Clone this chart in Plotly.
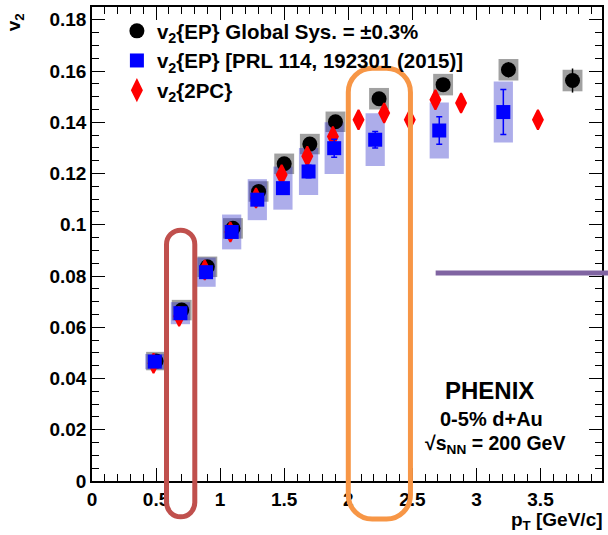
import plotly.graph_objects as go

# ---------------- data ----------------
ep_x = [0.5, 0.7, 0.9, 1.1, 1.3, 1.5, 1.7, 1.9, 2.24, 2.74, 3.25, 3.75]
ep_y = [0.0468, 0.0667, 0.0836, 0.0986, 0.1130, 0.1238, 0.1315, 0.1402, 0.1492, 0.1547, 0.1605, 0.1563]
ep_stat = [0.0004, 0.0005, 0.0006, 0.0007, 0.0008, 0.0009, 0.0010, 0.0012, 0.0018, 0.0025, 0.0030, 0.0047]
ep_sys = [0.0036, 0.0040, 0.0040, 0.0040, 0.0040, 0.0040, 0.0040, 0.0040, 0.0042, 0.0042, 0.0042, 0.0042]

prl_x = [0.49, 0.69, 0.89, 1.09, 1.29, 1.49, 1.69, 1.89, 2.21, 2.71, 3.21]
prl_y = [0.0466, 0.0655, 0.0815, 0.0972, 0.1098, 0.1143, 0.1208, 0.1299, 0.1332, 0.1368, 0.1440]
prl_stat = [0.0005, 0.0007, 0.0010, 0.0012, 0.0018, 0.0020, 0.0024, 0.0035, 0.0032, 0.0054, 0.0088]
prl_sys = [0.0030, 0.0043, 0.0057, 0.0068, 0.0080, 0.0084, 0.0092, 0.0101, 0.0103, 0.0109, 0.0119]

pc_x = [0.48, 0.68, 0.88, 1.08, 1.28, 1.48, 1.68, 1.88, 2.08, 2.28, 2.48, 2.68, 2.88, 3.48]
pc_y = [0.0460, 0.0643, 0.0824, 0.0972, 0.1105, 0.1195, 0.1267, 0.1345, 0.1410, 0.1436, 0.1410, 0.1488, 0.1475, 0.1410]

ep_box_w = 0.155
prl_box_w = 0.15

x_range = [0, 3.98]
y_range = [0, 0.185]

FONT = "Liberation Sans"

# ---------------- figure ----------------
fig = go.Figure()

# systematic boxes
fig.add_trace(go.Bar(
    x=ep_x, y=[2 * s for s in ep_sys], base=[v - s for v, s in zip(ep_y, ep_sys)],
    width=ep_box_w, marker=dict(color="rgba(110,110,110,0.65)", line_width=0),
    showlegend=False, hoverinfo="skip"))
fig.add_trace(go.Bar(
    x=prl_x, y=[2 * s for s in prl_sys], base=[v - s for v, s in zip(prl_y, prl_sys)],
    width=prl_box_w, marker=dict(color="rgba(40,40,200,0.38)", line_width=0),
    showlegend=False, hoverinfo="skip"))

fig.add_trace(go.Scatter(
    x=ep_x, y=ep_y, mode="markers", name="v<sub>2</sub>{EP} Global Sys. = ±0.3%",
    marker=dict(symbol="circle", size=15, color="black"),
    error_y=dict(type="data", array=ep_stat, color="black", thickness=1.5, width=0),
    legendrank=1))
fig.add_trace(go.Scatter(
    x=pc_x, y=pc_y, mode="markers", name="v<sub>2</sub>{2PC}",
    marker=dict(symbol="diamond-tall", size=14, color="red", line=dict(color="red", width=2)),
    legendrank=3))
fig.add_trace(go.Scatter(
    x=prl_x, y=prl_y, mode="markers", name="v<sub>2</sub>{EP} [PRL 114, 192301 (2015)]",
    marker=dict(symbol="square", size=14, color="blue"),
    error_y=dict(type="data", array=prl_stat, color="blue", thickness=1.5, width=3),
    legendrank=2))

W, H = 608, 535
ML, MR, MT, MB = 92, 4, 7, 54
PW, PH = W - ML - MR, H - MT - MB


def P(X, Y):
    return ((X - ML) / PW, (H - MB - Y) / PH)


def rounded_rect(L, R, T, B, r):
    c = 0.5523 * r
    pts = [
        ("M", [(L + r, T)]),
        ("L", [(R - r, T)]),
        ("C", [(R - r + c, T), (R, T + r - c), (R, T + r)]),
        ("L", [(R, B - r)]),
        ("C", [(R, B - r + c), (R - r + c, B), (R - r, B)]),
        ("L", [(L + r, B)]),
        ("C", [(L + r - c, B), (L, B - r + c), (L, B - r)]),
        ("L", [(L, T + r)]),
        ("C", [(L, T + r - c), (L + r - c, T), (L + r, T)]),
    ]
    s = ""
    for cmd, ps in pts:
        s += cmd + " ".join("%.5f,%.5f" % P(x, y) for x, y in ps) + " "
    return s + "Z"


shapes = [
    dict(type="path", xref="paper", yref="paper", path=rounded_rect(166.8, 195.2, 230.2, 516.8, 14.2),
         line=dict(color="#C0504D", width=5), layer="above"),
    dict(type="path", xref="paper", yref="paper", path=rounded_rect(349.3, 411.7, 68.3, 519.0, 24),
         line=dict(color="#F79646", width=5), layer="above"),
    dict(type="line", xref="paper", yref="paper",
         x0=P(437, 273)[0], x1=P(610, 273)[0], y0=P(437, 273)[1], y1=P(437, 273)[1],
         line=dict(color="#8064A2", width=5), layer="above"),
]

bold = dict(family=FONT, color="black", weight="bold")

annotations = [
    dict(text="PHENIX", x=P(491, 390)[0], y=P(491, 390)[1], font=dict(size=24, **bold)),
    dict(text="0-5% d+Au", x=P(493, 419)[0], y=P(493, 419)[1], font=dict(size=20, **bold)),
    dict(text="√s<sub>NN</sub> = 200 GeV", x=P(497, 444)[0], y=P(497, 444)[1], font=dict(size=19.5, **bold)),
    dict(text="v<sub>2</sub>", x=P(15, 22)[0], y=P(15, 22)[1], textangle=-90, font=dict(size=19, **bold)),
    dict(text="p<sub>T</sub> [GeV/c]", x=P(607, 521)[0], y=P(607, 521)[1], xanchor="right",
         font=dict(size=19, **bold)),
]
for a in annotations:
    a.update(xref="paper", yref="paper", showarrow=False)
    a.setdefault("xanchor", "center")
    a.setdefault("yanchor", "middle")

axis_common = dict(
    showgrid=False, zeroline=False, showline=True, linecolor="black", linewidth=1.5,
    mirror="ticks", ticks="inside", ticklen=13, tickwidth=1.2, tickcolor="black",
    tickfont=dict(size=19, **bold),
)

fig.update_layout(
    width=W, height=H,
    margin=dict(l=ML, r=MR, t=MT, b=MB),
    paper_bgcolor="white", plot_bgcolor="white",
    barmode="overlay",
    showlegend=True,
    legend=dict(x=P(117, 11)[0], y=P(117, 11)[1], xanchor="left", yanchor="top",
                bgcolor="rgba(0,0,0,0)", font=dict(size=20.5, **bold)),
    xaxis=dict(range=x_range, dtick=0.5, tick0=0,
               minor=dict(dtick=0.1, ticks="inside", ticklen=7, tickcolor="black", tickwidth=1.2),
               **axis_common),
    yaxis=dict(range=y_range, dtick=0.02, tick0=0, tickformat="~g",
               minor=dict(dtick=0.005, ticks="inside", ticklen=7, tickcolor="black", tickwidth=1.2),
               **axis_common),
    shapes=shapes,
    annotations=annotations,
)

fig.write_html("out.html", config={"displayModeBar": False},
               post_script="document.body.style.margin='0';document.body.style.overflow='hidden';")
